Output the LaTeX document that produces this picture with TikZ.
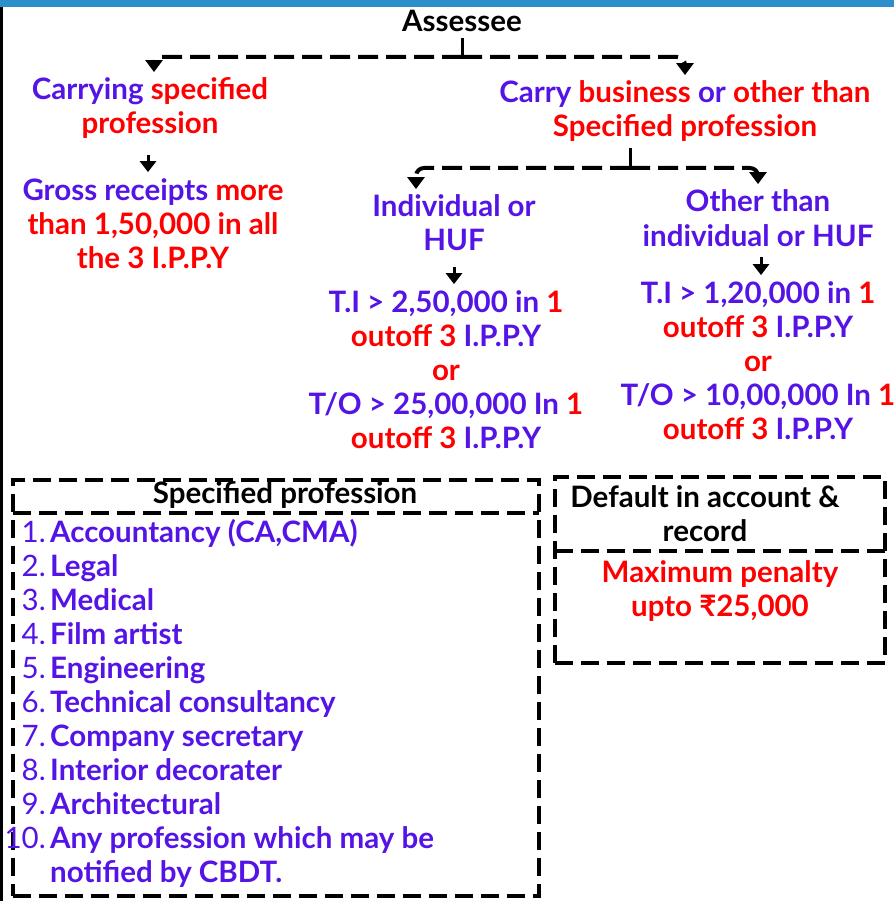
\documentclass[tikz,border=0pt]{standalone}
\usepackage{fontspec}
\setmainfont{Lato}
\usepackage{xcolor}
\usetikzlibrary{arrows.meta}
\definecolor{ippBlue}{RGB}{85,20,230}
\definecolor{ippRed}{RGB}{255,0,0}
\definecolor{barBlue}{RGB}{44,143,204}
\newcommand{\rd}[1]{\textcolor{ippRed}{#1}}
\tikzset{
  txt/.style={font=\fontsize{29.5}{34}\selectfont\bfseries, text=ippBlue, align=center, inner sep=0pt, outer sep=6pt, anchor=base},
  conn/.style={line width=4pt, dash pattern=on 20pt off 8pt, rounded corners=8pt, -{Triangle[width=17pt,length=12pt]}},
  stem/.style={line width=3pt},
  arr/.style={line width=3pt, -{Triangle[width=16pt,length=11pt]}},
  dbox/.style={draw, line width=4pt, dash pattern=on 18pt off 8pt, inner sep=0pt, outer sep=0pt, anchor=north west},
  dline/.style={line width=4pt, dash pattern=on 18pt off 8pt},
  num/.style={font=\fontsize{29.5}{34}\selectfont, text=ippBlue, inner sep=0pt, anchor=base east},
  itm/.style={font=\fontsize{29.5}{34}\selectfont\bfseries, text=ippBlue, inner sep=0pt, align=left, anchor=base west}
}
\begin{document}
\begin{tikzpicture}[x=1pt, y=-1pt]
\useasboundingbox (0,0) rectangle (894,901);
\fill[barBlue] (0,0) rectangle (894,7);
\fill[black] (0,7) rectangle (3,901);
\node[txt, text=black] (root) at (462,32) {Assessee};
\coordinate (j1) at (462,57);
\node[txt] (spec) at (150,134) {Carrying \rd{specified}\\\rd{profession}};
\node[txt] (gross) at (153,268) {Gross receipts \rd{more}\\\rd{than 1,50,000 in all}\\\rd{the 3 I.P.P.Y}};
\node[txt] (other) at (685,137) {Carry \rd{business} or \rd{other than}\\\rd{Specified profession}};
\coordinate (j2) at (630,168);
\node[txt] (ind) at (454,251) {Individual or\\HUF};
\node[txt] (nonind) at (758,246) {Other than\\individual or HUF};
\node[txt] (indlim) at (446,448) {T.I > 2,50,000 in \rd{1}\\\rd{outoff 3} I.P.P.Y\\\rd{or}\\T/O > 25,00,000 In \rd{1}\\\rd{outoff 3} I.P.P.Y};
\node[txt] (nonlim) at (758,439) {T.I > 1,20,000 in \rd{1}\\\rd{outoff 3} I.P.P.Y\\\rd{or}\\T/O > 10,00,000 In \rd{1}\\\rd{outoff 3} I.P.P.Y};
\draw[stem] (root.south) -- (j1);
\draw[conn] (j1) -| ([xshift=4pt]spec.north);
\draw[conn] (j1) -| (other.north);
\draw[arr, shorten <=10pt] ([xshift=-2pt]spec.south) -- ([xshift=-2pt]spec.south |- gross.north);
\draw[stem] (other.south -| j2) -- (j2);
\draw[conn] (j2) -| ([xshift=-38pt]ind.north);
\draw[conn] (j2) -| (nonind.north);
\draw[arr, shorten <=10pt] (ind.south) -- (ind.south |- indlim.north);
\draw[arr, shorten <=5pt] ([xshift=3pt]nonind.south) -- ([xshift=3pt]nonind.south |- nonlim.north);
\node[dbox, minimum width=526pt, minimum height=416pt] (spbox) at (13,480) {};
\draw[dline] ([yshift=-33pt]spbox.north west) -- ([yshift=-33pt]spbox.north east);
\node[txt, text=black] (sphead) at (285,503) {Specified profession};
\foreach \n/\txt/\dy [count=\k from 0] in {1/{Accountancy (CA,CMA)}/0, 2/Legal/0, 3/Medical/0, 4/{Film artist}/0, 5/Engineering/0, 6/{Technical consultancy}/0, 7/{Company secretary}/0, 8/{Interior decorater}/0, 9/Architectural/0, 10/{Any profession which may be\\notified by CBDT.}/34}{
\node[num] (n\n) at (46,{542+34*\k}) {\n.};
\node[itm] (p\n) at (50,{542+34*\k+\dy}) {\txt};
}
\node[dbox, minimum width=330pt, minimum height=186pt] (dfbox) at (555,477) {};
\draw[dline] ([yshift=-74pt]dfbox.north west) -- ([yshift=-74pt]dfbox.north east);
\node[txt, text=black] (dfhead) at (705,541) {Default in account \&\\record};
\node[txt, text=ippRed] (penalty) at (720,616) {Maximum penalty\\upto ₹25,000};
\end{tikzpicture}
\end{document}
